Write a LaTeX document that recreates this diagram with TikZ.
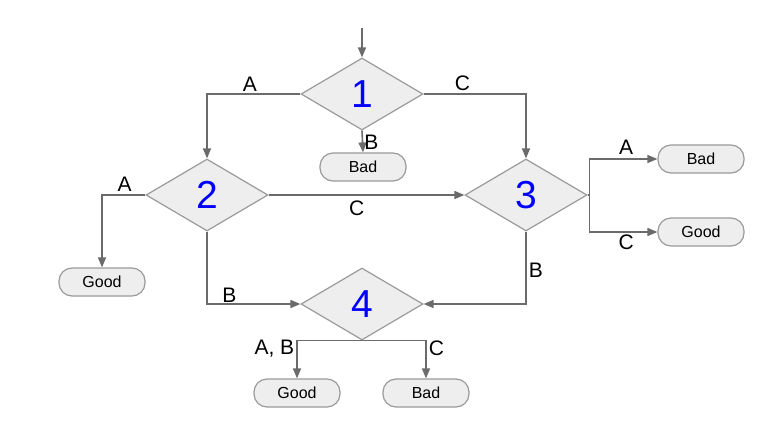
\documentclass[tikz,border=0pt]{standalone}
\usepackage{fontspec}
\setmainfont{Liberation Sans}
\usepackage{xcolor}
\usetikzlibrary{arrows.meta, positioning, shapes.geometric}

\definecolor{linegray}{HTML}{6B6B6B}
\definecolor{edgegray}{HTML}{9A9A9A}
\definecolor{boxfill}{HTML}{EEEEEE}

\begin{document}
\begin{tikzpicture}[
          x=1pt, y=-1pt,
          choice/.style={diamond, draw=edgegray, fill=boxfill, line width=1.2pt,
                         inner sep=0pt, minimum width=122pt, minimum height=72pt,
                         text=blue, font=\fontsize{39}{39}\selectfont},
          leaf/.style={draw=edgegray, fill=boxfill, line width=1.2pt,
                       rounded corners=13pt, minimum width=86pt,
                       minimum height=28pt, font=\fontsize{16}{16}\selectfont},
          lbl/.style={font=\fontsize{21}{21}\selectfont, inner sep=2pt},
          arr/.style={-{Triangle[length=10pt, width=8pt]}, line width=1.6pt,
                      draw=linegray}
        ]
          \useasboundingbox (0,0) rectangle (784,426);
          \node[choice] (d1) at (362,94)  {1};
          \node[choice] (d2) at (207,195) {2};
          \node[choice] (d3) at (526,195) {3};
          \node[choice] (d4) at (362,304) {4};
          \node[leaf] (bad1)  at (363,167) {Bad};
          \node[leaf] (good2) at (102,282) {Good};
          \node[leaf] (bad3)  at (701,159) {Bad};
          \node[leaf] (good3) at (701,232) {Good};
          \node[leaf] (good4) at (297,393) {Good};
          \node[leaf] (bad4)  at (426,393) {Bad};
          \coordinate (start) at (362,28);
          % question 1
          \draw[arr] (start) -- (d1);
          \draw[arr] (d1.west) -| node[lbl, pos=0.27, above] {A} (d2.north);
          \draw[arr] (d1.east) -| node[lbl, pos=0.19, above] {C} (d3.north);
          \draw[arr] (d1.south) -- node[lbl, midway, right, inner sep=1pt, yshift=-1pt] {B} (bad1.north);
          % question 2
          \draw[arr] (d2.west) -| node[lbl, pos=0.24, above, yshift=1pt] {A} (good2.north);
          \draw[arr] (d2.east) -- node[lbl, pos=0.45, below, yshift=-3pt] {C} (d3.west);
          \draw[arr] (d2.south) |- node[lbl, pos=0.62, above, yshift=-1pt] {B} (d4.west);
          % question 3
          \draw[arr] (d3.east) -- ++(2,0) |- node[lbl, pos=0.77, above, yshift=2pt] {A} (bad3.west);
          \draw[arr] (d3.east) -- ++(2,0) |- node[lbl, pos=0.77, below] {C} (good3.west);
          \draw[arr] (d3.south) |- node[lbl, pos=0.27, right, inner sep=2pt] {B} (d4.east);
          % question 4
          \draw[arr] (d4.south) -| node[lbl, pos=0.5, anchor=north east, yshift=3pt] {A, B} (good4.north);
          \draw[arr] (d4.south) -| node[lbl, pos=0.5, anchor=north west, yshift=3pt] {C} (bad4.north);
        \end{tikzpicture}
\end{document}
